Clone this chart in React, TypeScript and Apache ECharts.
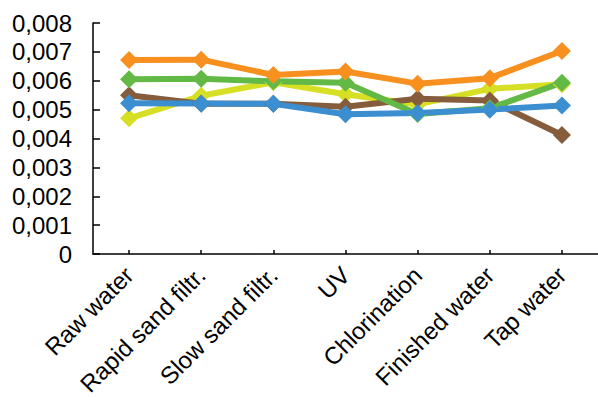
import React, { useEffect, useRef } from "react";
import * as echarts from "echarts";

const categories = [
  "Raw water",
  "Rapid sand filtr.",
  "Slow sand filtr.",
  "UV",
  "Chlorination",
  "Finished water",
  "Tap water",
];

const yellowValues = [0.0047, 0.00548, 0.00595, 0.00553, 0.00518, 0.00572, 0.00588];
const brownValues = [0.0055, 0.0052, 0.0052, 0.0051, 0.00538, 0.00532, 0.00412];
const greenValues = [0.00605, 0.00607, 0.00598, 0.00593, 0.00485, 0.00505, 0.00593];
const orangeValues = [0.00672, 0.00673, 0.0062, 0.00632, 0.0059, 0.00609, 0.00703];
const blueValues = [0.00522, 0.00521, 0.0052, 0.00484, 0.00488, 0.005, 0.00514];

const yTicks = { min: 0, max: 0.008, interval: 0.001 };

const seriesDefs = [
  { name: "Yellow", color: "#D6DF23", data: yellowValues },
  { name: "Brown", color: "#855C3C", data: brownValues },
  { name: "Green", color: "#63B946", data: greenValues },
  { name: "Orange", color: "#F7901E", data: orangeValues },
  { name: "Blue", color: "#3B8ED0", data: blueValues },
];

const FONT = "Liberation Sans, Arial, sans-serif";

export default function App() {
  const ref = useRef<HTMLDivElement>(null);

  useEffect(() => {
    if (!ref.current) return;
    const chart = echarts.init(ref.current, null, { renderer: "svg" });
    chart.setOption({
      animation: false,
      backgroundColor: "#ffffff",
      grid: { left: 93, top: 23, bottom: 149, right: -11, containLabel: false },
      xAxis: {
        type: "category",
        data: categories,
        boundaryGap: true,
        axisLine: { show: true, lineStyle: { color: "#000", width: 1.5 } },
        axisTick: { show: true, inside: true, alignWithLabel: true, length: 4, lineStyle: { color: "#000", width: 1.5 } },
        axisLabel: {
          rotate: 45,
          interval: 0,
          margin: 17,
          fontSize: 24,
          fontFamily: FONT,
          color: "#000",
        },
        splitLine: { show: false },
      },
      yAxis: {
        type: "value",
        min: yTicks.min,
        max: yTicks.max,
        interval: yTicks.interval,
        axisLine: { show: true, lineStyle: { color: "#000", width: 1.5 } },
        axisTick: { show: true, inside: true, length: 7, lineStyle: { color: "#000", width: 1.5 } },
        axisLabel: {
          margin: 21,
          fontSize: 24,
          fontFamily: FONT,
          color: "#000",
          formatter: (v: number) => (v === 0 ? "0" : v.toFixed(3).replace(".", ",")),
        },
        splitLine: { show: false },
      },
      series: seriesDefs.map((s) => ({
        name: s.name,
        type: "line",
        data: s.data,
        symbol: "diamond",
        symbolSize: 18,
        showSymbol: true,
        lineStyle: { color: s.color, width: 6 },
        itemStyle: { color: s.color },
        emphasis: { disabled: true },
      })),
    });
    return () => chart.dispose();
  }, []);

  return (
    <div
      ref={ref}
      style={{ position: "fixed", left: 0, top: 0, width: 598, height: 403 }}
    />
  );
}
